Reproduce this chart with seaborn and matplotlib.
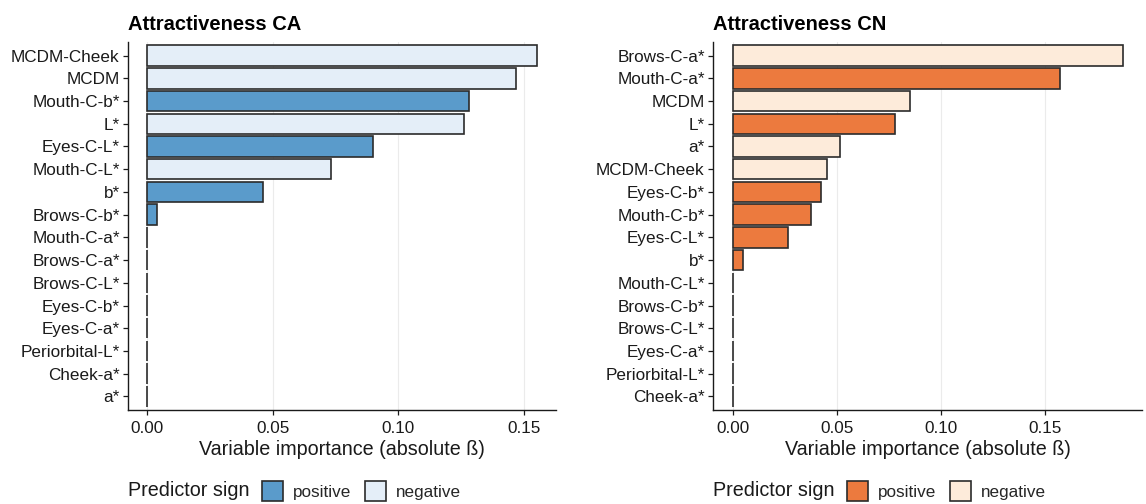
import matplotlib
matplotlib.use("Agg")
import matplotlib.pyplot as plt
from matplotlib.patches import Patch
import numpy as np
import pandas as pd
import seaborn as sns

# Standardised coefficients (absolute beta) per predictor, sorted by importance
ca_vars = ["MCDM-Cheek", "MCDM", "Mouth-C-b*", "L*", "Eyes-C-L*", "Mouth-C-L*",
           "b*", "Brows-C-b*", "Mouth-C-a*", "Brows-C-a*", "Brows-C-L*",
           "Eyes-C-b*", "Eyes-C-a*", "Periorbital-L*", "Cheek-a*", "a*"]
ca_beta = [0.155, 0.147, 0.128, 0.126, 0.090, 0.073, 0.046, 0.0037,
           0, 0, 0, 0, 0, 0, 0, 0]
ca_sign = ["negative", "negative", "positive", "negative", "positive", "negative",
           "positive", "positive", "negative", "negative", "negative",
           "negative", "negative", "negative", "negative", "negative"]

cn_vars = ["Brows-C-a*", "Mouth-C-a*", "MCDM", "L*", "a*", "MCDM-Cheek",
           "Eyes-C-b*", "Mouth-C-b*", "Eyes-C-L*", "b*", "Mouth-C-L*",
           "Brows-C-b*", "Brows-C-L*", "Eyes-C-a*", "Periorbital-L*", "Cheek-a*"]
cn_beta = [0.187, 0.157, 0.085, 0.078, 0.0515, 0.0455, 0.0425, 0.0375,
           0.0268, 0.0052, 0, 0, 0, 0, 0, 0]
cn_sign = ["negative", "positive", "negative", "positive", "negative", "negative",
           "positive", "positive", "positive", "positive", "negative",
           "negative", "negative", "negative", "negative", "negative"]

sign_levels = ["positive", "negative"]
ca_palette = {"positive": "#5A9BCB", "negative": "#E4EEF8"}
cn_palette = {"positive": "#EC7A3E", "negative": "#FDEBDA"}

sns.set_theme(style="white")
plt.rcParams["font.family"] = ["Liberation Sans", "DejaVu Sans"]

W, H = 1146, 504
fig = plt.figure(figsize=(W / 100, H / 100), dpi=100)

ink = "#1a1a1a"
edge = "#2b2b2b"


def panel(left_px, right_px, title, names, beta, sign, palette):
    top_px, bottom_px = 42, 410
    ax = fig.add_axes([left_px / W, 1 - bottom_px / H,
                       (right_px - left_px) / W, (bottom_px - top_px) / H])
    df = pd.DataFrame({"predictor": names, "beta": beta, "sign": sign})
    sns.barplot(data=df, y="predictor", x="beta", hue="sign", order=names,
                hue_order=sign_levels, palette=palette, dodge=False,
                width=0.9, edgecolor=edge, linewidth=1.2, saturation=1,
                legend=False, ax=ax)
    vmax = max(beta)
    ax.set_xlim(-0.05 * vmax, 1.05 * vmax)
    ax.set_ylim(len(names) - 1 + 0.6, -0.6)
    ax.set_xticks([0, 0.05, 0.10, 0.15])
    ax.set_xticklabels(["0.00", "0.05", "0.10", "0.15"])
    ax.grid(axis="x", color="#EBEBEB", linewidth=0.8)
    ax.grid(axis="y", visible=False)
    ax.set_axisbelow(True)
    for s in ["top", "right"]:
        ax.spines[s].set_visible(False)
    for s in ["left", "bottom"]:
        ax.spines[s].set_color(ink)
        ax.spines[s].set_linewidth(1.0)
    ax.tick_params(axis="both", which="major", length=3.5, width=0.9,
                   color=ink, labelcolor=ink, labelsize=12.3, pad=2.5,
                   left=True, bottom=True)
    ax.tick_params(axis="x", pad=4.5)
    ax.set_ylabel("")
    ax.set_xlabel("Variable importance (absolute \u00df)", fontsize=14.2,
                  color=ink, labelpad=3)
    ax.set_title(title, loc="left", fontsize=14.5, fontweight="bold",
                 color="black", pad=9)
    ax.set_facecolor("white")

    # legend below the panel: title on the left, keys in one row
    fig.text(left_px / W, 1 - 491 / H, "Predictor sign", fontsize=14.2,
             color=ink, ha="left", va="center")
    handles = [Patch(facecolor=palette[k], edgecolor=edge, linewidth=1.2)
               for k in sign_levels]
    fig.legend(handles, sign_levels, loc="center left",
               bbox_to_anchor=((left_px + 134) / W, 1 - 491 / H),
               ncol=2, frameon=False, fontsize=12.3,
               handlelength=1.25, handleheight=1.4, handletextpad=0.55,
               columnspacing=0.8, borderaxespad=0, borderpad=0)
    return ax


panel(128, 556, "Attractiveness CA", ca_vars, ca_beta, ca_sign, ca_palette)
panel(713, 1142, "Attractiveness CN", cn_vars, cn_beta, cn_sign, cn_palette)

fig.savefig("out.png", dpi=100, facecolor="white")
